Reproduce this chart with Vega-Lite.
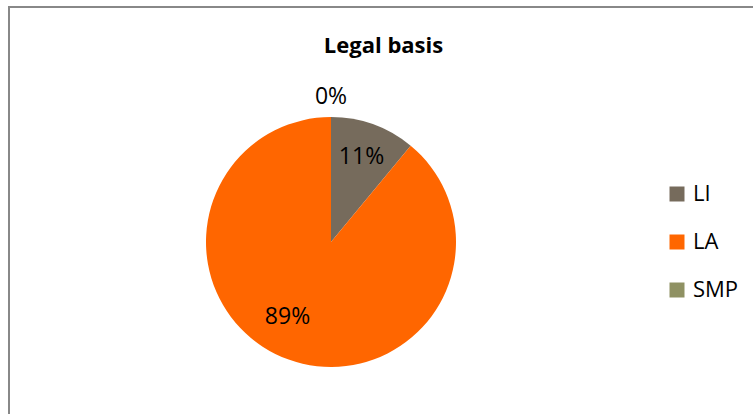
{
  "$schema": "https://vega.github.io/schema/vega-lite/v6.json",
  "width": 749,
  "height": 411,
  "autosize": {"type": "none"},
  "padding": {"left": 9, "top": 7, "right": 0, "bottom": 0},
  "background": "white",
  "config": {
    "view": {"stroke": "#888888", "strokeWidth": 2},
    "font": "Open Sans"
  },
  "title": {
    "text": "Legal basis",
    "fontSize": 22,
    "fontWeight": "bold",
    "font": "Open Sans",
    "color": "#000000",
    "anchor": "middle",
    "baseline": "alphabetic",
    "offset": -68
  },
  "data": {
    "values": [
      {"cat": "LI", "value": 11, "label": "11%", "idx": 1},
      {"cat": "LA", "value": 89, "label": "89%", "idx": 2},
      {"cat": "SMP", "value": 0, "label": "0%", "idx": 3}
    ]
  },
  "encoding": {
    "theta": {"field": "value", "type": "quantitative", "stack": true},
    "order": {"field": "idx", "type": "quantitative"},
    "x": {"value": 322},
    "y": {"value": 235}
  },
  "layer": [
    {
      "mark": {"type": "arc", "outerRadius": 125},
      "encoding": {
        "color": {
          "field": "cat",
          "type": "nominal",
          "sort": null,
          "scale": {"domain": ["LI", "LA", "SMP"], "range": ["#766B5C", "#FF6600", "#8F9163"]},
          "legend": {
            "title": null,
            "orient": "none",
            "legendX": 657,
            "legendY": 176,
            "symbolType": "square",
            "symbolSize": 225,
            "symbolStrokeWidth": 0,
            "labelFontSize": 22,
            "labelFont": "Open Sans",
            "labelColor": "#000000",
            "labelOffset": 5,
            "rowPadding": 26,
            "padding": 0
          }
        }
      }
    },
    {
      "mark": {"type": "text", "radius": 90, "fontSize": 23, "color": "#000000"},
      "encoding": {
        "text": {"condition": {"test": "datum.cat === 'LI'", "field": "label"}, "value": ""}
      }
    },
    {
      "mark": {"type": "text", "radius": 90, "fontSize": 23, "color": "#000000", "dx": -13, "dy": -10},
      "encoding": {
        "text": {"condition": {"test": "datum.cat === 'LA'", "field": "label"}, "value": ""}
      }
    },
    {
      "mark": {"type": "text", "radius": 145, "fontSize": 23, "color": "#000000"},
      "encoding": {
        "text": {"condition": {"test": "datum.cat === 'SMP'", "field": "label"}, "value": ""}
      }
    }
  ]
}
